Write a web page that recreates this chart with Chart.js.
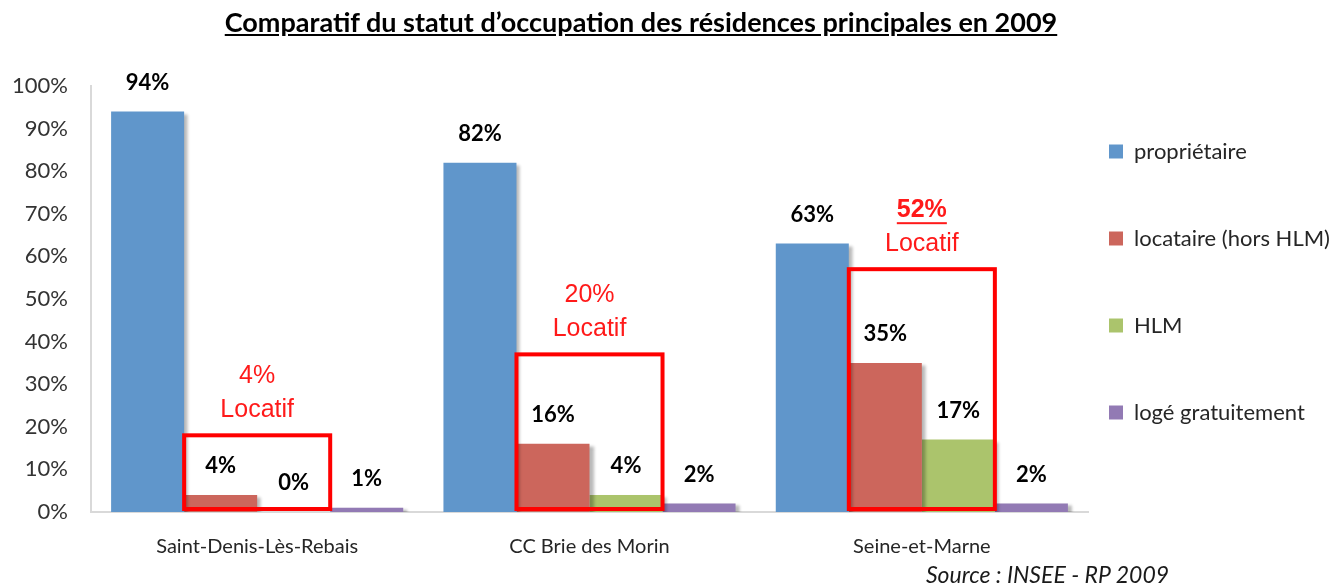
<!DOCTYPE html>
<html>
<head>
<meta charset="utf-8">
<script src="https://cdn.jsdelivr.net/npm/chart.js@4.4.0/dist/chart.umd.min.js"></script>
<style>
  html, body { margin: 0; padding: 0; background: #fff; }
  #wrap { position: relative; width: 1342px; height: 584px; overflow: hidden; }
  #title { position: absolute; left: -30px; top: 5px; width: 1342px; text-align: center;
           font: bold 27px Lato; text-decoration: underline; color: #000; }
  #source { position: absolute; left: 926px; top: 560px; font: italic 23px Lato; color: #1a1a1a; }
</style>
</head>
<body>
<div id="wrap">
  <canvas id="chart" width="1342" height="584"></canvas>
  <div id="title">Comparatif du statut d’occupation des résidences principales en 2009</div>
  <div id="source">Source : INSEE - RP 2009</div>
</div>
<script>
const communes = ["Saint-Denis-Lès-Rebais", "CC Brie des Morin", "Seine-et-Marne"];
const proprietaire = [94, 82, 63];
const locataire = [4, 16, 35];
const hlm = [0, 4, 17];
const logeGratuit = [1, 2, 2];
// total locatif share written above each red frame, and the frame height (in %)
const locatifTotal = [4, 20, 52];
const locatifFrameTop = [18, 37, 57];

// grey drop shadow on the right of the bars
const barShadow = {
  id: "barShadow",
  beforeDatasetDraw(chart) {
    const c = chart.ctx;
    c.save();
    c.shadowColor = "rgba(0,0,0,0.28)";
    c.shadowOffsetX = 4;
    c.shadowOffsetY = 2;
    c.shadowBlur = 3;
  },
  afterDatasetDraw(chart) {
    chart.ctx.restore();
  },
};

const locatifFrames = {
  id: "locatifFrames",
  afterDatasetsDraw(chart) {
    const c = chart.ctx;
    const y = chart.scales.y;
    const red = chart.getDatasetMeta(1).data;
    const green = chart.getDatasetMeta(2).data;
    c.save();
    locatifTotal.forEach((total, i) => {
      const left = red[i].x - red[i].width / 2;
      const right = green[i].x + green[i].width / 2;
      const top = y.getPixelForValue(locatifFrameTop[i]);
      const bottom = y.getPixelForValue(0) - 3;
      c.strokeStyle = "#ff0000";
      c.lineWidth = 4;
      c.strokeRect(left, top, right - left, bottom - top);

      const cx = (left + right) / 2;
      const strong = i === communes.length - 1;
      c.fillStyle = "#ff1a1a";
      c.textAlign = "center";
      c.textBaseline = "middle";
      c.font = (strong ? "bold " : "") + '25px "Liberation Sans"';
      const txt = total + "%";
      c.fillText(txt, cx, top - 59);
      if (strong) {
        const w = c.measureText(txt).width;
        c.fillRect(cx - w / 2, top - 59 + 12, w, 2);
      }
      c.font = '25px "Liberation Sans"';
      c.fillText("Locatif", cx, top - 25);
    });
    c.restore();
  },
};

const valueLabels = {
  id: "valueLabels",
  afterDatasetsDraw(chart) {
    const c = chart.ctx;
    c.save();
    c.font = "bold 22px Lato";
    c.fillStyle = "#000";
    c.textAlign = "center";
    c.textBaseline = "middle";
    chart.data.datasets.forEach((ds, d) => {
      chart.getDatasetMeta(d).data.forEach((bar, i) => {
        c.fillText(ds.data[i] + "%", bar.x, bar.y - 29);
      });
    });
    c.restore();
  },
};

// keep the legend 254px wide and move it where the original sits
const legendPlace = {
  id: "legendPlace",
  afterInit(chart) {
    const lg = chart.legend;
    const fit = lg.fit;
    lg.fit = function () {
      fit.call(this);
      this.width = 254;
    };
  },
  afterLayout(chart) {
    const lg = chart.legend;
    lg.left -= 44;
    lg.top -= 53;
    lg.bottom -= 53;
  },
};

const chart = new Chart(document.getElementById("chart"), {
  type: "bar",
  data: {
    labels: communes,
    datasets: [
      { label: "propriétaire", data: proprietaire, backgroundColor: "#6096cb" },
      { label: "locataire (hors HLM)", data: locataire, backgroundColor: "#cc665c" },
      { label: "HLM", data: hlm, backgroundColor: "#abc46c" },
      { label: "logé gratuitement", data: logeGratuit, backgroundColor: "#927ab4" },
    ],
  },
  options: {
    responsive: false,
    animation: false,
    layout: { padding: { top: 86, left: 0, right: 0, bottom: 0 } },
    datasets: { bar: { categoryPercentage: 0.879, barPercentage: 1.0 } },
    scales: {
      x: {
        grid: { display: false, drawTicks: false },
        border: { color: "#d9d9d9", width: 2 },
        ticks: { color: "#262626", font: { family: "Lato", size: 20 }, padding: 23 },
        afterFit(scale) { scale.height = 72; },
      },
      y: {
        min: 0,
        max: 100,
        grid: { display: false, drawTicks: false },
        border: { color: "#d9d9d9", width: 2 },
        ticks: {
          stepSize: 10,
          color: "#333",
          padding: 23,
          font: { family: "Lato", size: 22 },
          callback: (v) => v + "%",
        },
        afterFit(scale) { scale.width = 91; },
      },
    },
    plugins: {
      tooltip: { enabled: false },
      legend: {
        position: "right",
        labels: {
          boxWidth: 14,
          boxHeight: 14,
          padding: 65,
          color: "#262626",
          font: { family: "Lato", size: 22 },
        },
      },
    },
  },
  plugins: [barShadow, locatifFrames, valueLabels, legendPlace],
});
</script>
</body>
</html>
